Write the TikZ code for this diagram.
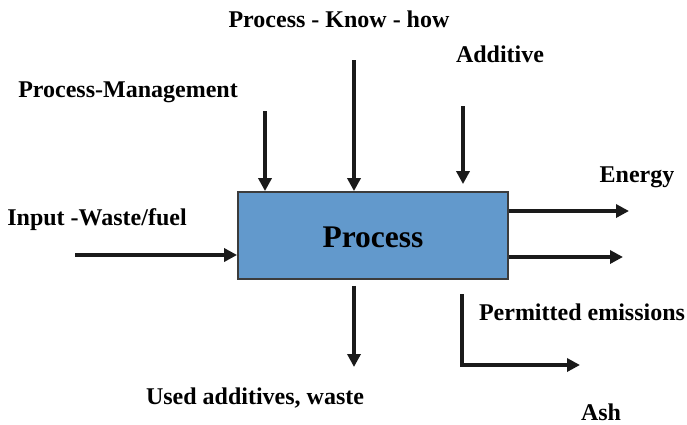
\documentclass[tikz,border=0pt]{standalone}
\usepackage{fontspec}
\setmainfont{Liberation Serif}
\usetikzlibrary{arrows.meta}
\definecolor{procblue}{HTML}{6299CC}
\definecolor{inkdark}{HTML}{1A1A1A}
\begin{document}
\begin{tikzpicture}[x=1pt,y=-1pt,
  label/.style={font=\fontsize{24}{27}\selectfont\bfseries, anchor=base, inner sep=0pt},
  flow/.style={draw=inkdark, line width=3.8pt, -{Triangle[length=13pt,width=13pt]}},
  procbox/.style={draw=inkdark!85, line width=1.8pt, fill=procblue,
    minimum width=270pt, minimum height=87pt, inner sep=0pt}]
\useasboundingbox (0,0) rectangle (687,424);

% central process block
\node[procbox] (proc) at (373,235.5) {};
\node[label, font=\fontsize{31.5}{34}\selectfont\bfseries] (ptitle) at (373,247) {Process};

% labels
\node[label] (knowhow) at (339,27) {Process - Know - how};
\node[label] (mgmt) at (128,97) {Process-Management};
\node[label] (additive) at (500,62) {Additive};
\node[label] (energy) at (637,182) {Energy};
\node[label] (input) at (97,225) {Input -Waste/fuel};
\node[label] (emis) at (582,320) {Permitted emissions};
\node[label] (used) at (255,404) {Used additives, waste};
\node[label] (ash) at (601,420) {Ash};

% free ends of the connectors
\coordinate (mgmtTail) at (265,111);
\coordinate (khTail) at (354,60);
\coordinate (addTail) at (463,106);
\coordinate (inTail) at (75,255);
\coordinate (enHead) at (629,211);
\coordinate (emHead) at (623,257);
\coordinate (usedHead) at (354,367);
\coordinate (ashTop) at (462,294);
\coordinate (ashCorner) at (462,365);
\coordinate (ashHead) at (580,365);

% inputs
\draw[flow] (mgmtTail) -- (mgmtTail |- proc.north);
\draw[flow] (khTail) -- (khTail |- proc.north);
\draw[flow] (addTail) -- ([yshift=7pt]addTail |- proc.north);
\draw[flow] (inTail) -- (inTail -| proc.west);

% outputs
\draw[flow] (enHead -| proc.east) -- (enHead);
\draw[flow] (emHead -| proc.east) -- (emHead);
\draw[flow] ([yshift=-6pt]usedHead |- proc.south) -- (usedHead);
\draw[flow] (ashTop) -- (ashCorner) -- (ashHead);
\end{tikzpicture}
\end{document}
